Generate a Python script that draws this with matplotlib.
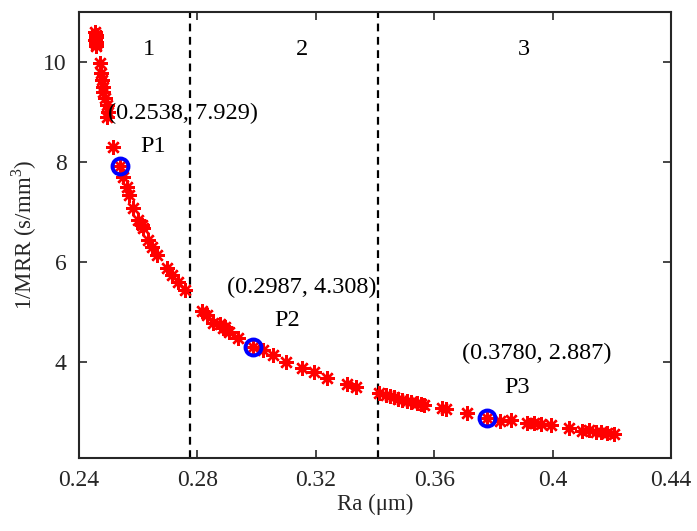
import matplotlib
matplotlib.use("Agg")
import matplotlib.pyplot as plt

plt.rcParams['font.family'] = ['Liberation Serif', 'DejaVu Serif']
plt.rcParams['mathtext.fontset'] = 'custom'
plt.rcParams['mathtext.rm'] = 'Liberation Serif'

# Pareto front points (Ra, 1/MRR)
ra = [0.2455, 0.2456, 0.2457, 0.2455, 0.2458, 0.2457, 0.2459,
      0.2471, 0.2474, 0.2477, 0.2481, 0.2482, 0.2488, 0.2494, 0.2498, 0.2496,
      0.2515, 0.2549, 0.2562, 0.2569, 0.2583, 0.2600, 0.2613, 0.2617,
      0.2633, 0.2647, 0.2664, 0.2697, 0.2714, 0.2734, 0.2757,
      0.2815, 0.2831, 0.2852, 0.2875, 0.2885, 0.2892, 0.2907, 0.2937,
      0.3020, 0.3054, 0.3101, 0.3155, 0.3195, 0.3239, 0.3307, 0.3337,
      0.3415, 0.3438, 0.3452, 0.3465, 0.3478, 0.3492, 0.3508, 0.3522, 0.3543, 0.3556, 0.3566,
      0.3627, 0.3640, 0.3711, 0.3822, 0.3859, 0.3913, 0.3937, 0.3961,
      0.3994, 0.4055, 0.4099, 0.4122, 0.4146, 0.4163, 0.4183, 0.4207]
inv_mrr = [10.60, 10.55, 10.50, 10.45, 10.40, 10.36, 10.32,
           9.98, 9.78, 9.64, 9.50, 9.40, 9.28, 9.14, 9.00, 8.90,
           8.30, 7.70, 7.50, 7.34, 7.08, 6.84, 6.74, 6.68,
           6.44, 6.30, 6.14, 5.88, 5.74, 5.60, 5.44,
           5.02, 4.94, 4.78, 4.76, 4.68, 4.70, 4.60, 4.48,
           4.24, 4.14, 4.00, 3.88, 3.80, 3.68, 3.57, 3.50,
           3.38, 3.34, 3.32, 3.30, 3.27, 3.24, 3.22, 3.20, 3.18, 3.16, 3.14,
           3.09, 3.07, 2.98, 2.83, 2.84, 2.78, 2.78, 2.77,
           2.74, 2.68, 2.62, 2.64, 2.60, 2.60, 2.58, 2.57]

# Highlighted points
p_names = ['P1', 'P2', 'P3']
p_ra = [0.2538, 0.2987, 0.3780]
p_inv = [7.929, 4.308, 2.887]

# Region boundaries and labels
boundaries = [0.2774, 0.3409]
region_labels = ['1', '2', '3']
region_x = [0.2636, 0.3152, 0.3903]

xticks = [0.24, 0.28, 0.32, 0.36, 0.40, 0.44]
xticklabels = ['0.24', '0.28', '0.32', '0.36', '0.4', '0.44']
yticks = [4, 6, 8, 10]

fig = plt.figure(figsize=(6.97, 5.31), dpi=100)
ax = fig.add_axes([79/697, 1-458/531, (671-79)/697, (458-11.7)/531])

ax.plot(ra + p_ra, inv_mrr + p_inv, linestyle='none', marker=(8, 2, 0),
        markersize=10.5, markeredgewidth=1.7, color='red', zorder=3)
ax.plot(p_ra, p_inv, linestyle='none', marker='o', markersize=11.5,
        markerfacecolor='none', markeredgecolor='blue', markeredgewidth=2.8, zorder=4)

for b in boundaries:
    ax.axvline(b, color='black', linestyle=(0, (3.5, 2.5)), linewidth=1.6, zorder=2)

for lab, xp in zip(region_labels, region_x):
    ax.text(xp, 10.25, lab, ha='center', va='center', fontsize=17.5)

coord_pos = [(0.2751, 8.98), (0.3152, 5.50), (0.3947, 4.18)]
name_pos = [(0.2649, 8.32), (0.3104, 4.84), (0.3880, 3.50)]
for n, xv, yv, cp, npos in zip(p_names, p_ra, p_inv, coord_pos, name_pos):
    ax.text(cp[0], cp[1], f'({xv:.4f}, {yv:.3f})', ha='center', va='center', fontsize=17.5)
    ax.text(npos[0], npos[1], n, ha='center', va='center', fontsize=17.5)

ax.set_xlim(0.24, 0.44)
ax.set_ylim(2.08, 11.01)
ax.set_xticks(xticks)
ax.set_xticklabels(xticklabels)
ax.set_yticks(yticks)
ax.tick_params(direction='in', length=6, width=1.2, top=True, right=True,
               labelsize=17, colors='#262626', pad=9)
for s in ax.spines.values():
    s.set_linewidth(1.5)
    s.set_color('#262626')

ax.set_xlabel('Ra (μm)', fontsize=16.5, color='#262626', labelpad=2)
ax.set_ylabel('1/MRR (s/mm$^3$)', fontsize=16.5, color='#262626', labelpad=3)

fig.savefig('out.png', dpi=100)
